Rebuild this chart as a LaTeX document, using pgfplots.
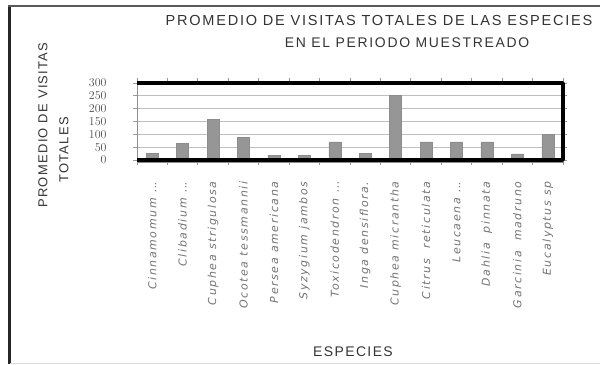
\documentclass[border=0pt]{standalone}
\usepackage{fontspec}
\setmainfont{Liberation Sans}
\newfontfamily\titlefont[LetterSpace=12]{Liberation Sans}
\newfontfamily\labfont[LetterSpace=10]{Liberation Sans}
\newfontfamily\tickfont[LetterSpace=15]{DejaVu Sans}
\newfontfamily\ytickfont[LetterSpace=6]{DejaVu Sans}
\usepackage{pgfplots}
\pgfplotsset{compat=1.18}
\definecolor{barc}{RGB}{150,150,150}
\newcommand{\dd}{.\kern0.5pt.\kern0.5pt.}
\begin{document}
\begin{tikzpicture}[x=1bp,y=1bp]
\useasboundingbox (0,0) rectangle (600,364);
\draw[line width=3bp, black!85] (9,0) -- (9,357.5);
\draw[line width=2bp, black!65] (8,357.5) -- (600,357.5);
\draw[line width=1bp, black!15] (10,0.5) -- (600,0.5);
\node[font=\titlefont\fontsize{14.6}{17}\selectfont, text=black!80] at (379,344) {PROMEDIO DE VISITAS TOTALES DE LAS ESPECIES};
\node[font=\titlefont\fontsize{14}{17}\selectfont, text=black!80] at (407,321) {EN EL PERIODO MUESTREADO};
\node[rotate=90, font=\labfont\fontsize{13}{15}\selectfont, text=black!80] at (43,239) {PROMEDIO DE VISITAS};
\node[rotate=90, font=\labfont\fontsize{13}{15}\selectfont, text=black!80] at (64,214) {TOTALES};
\node[font=\labfont\fontsize{14}{15}\selectfont, text=black!80] at (353,12) {ESPECIES};
\begin{axis}[
  at={(137bp,204bp)}, anchor=south west,
  scale only axis, width=426bp, height=77bp,
  xmin=-0.5, xmax=13.5, ymin=0, ymax=300,
  ytick={0,50,...,300},
  ymajorgrids, grid style={black!25, line width=0.8bp},
  axis line style={draw=none},
  xtick={0,...,13},
  xticklabels={{Cinnamomum \dd}, {Clibadium \dd}, {Cuphea strigulosa}, {Ocotea tessmannii}, {Persea americana}, {Syzygium jambos}, {Toxicodendron \dd}, {Inga densiflora.}, {Cuphea micrantha}, {Citrus\ \ reticulata}, {Leucaena \dd}, {Dahlia\ \ pinnata}, {Garcinia\ \ madruno}, {Eucalyptus sp}},
  major x tick style={draw=none},
  minor xtick={-0.5,0.5,...,13.5},
  minor tick length=5bp,
  major tick length=4bp,
  tick align=outside,
  tick style={black!40, line width=0.8bp},
  xticklabel style={yshift=-14bp, rotate=90, anchor=east, font=\tickfont\itshape\fontsize{11}{12}\selectfont, text=black!55},
  yticklabel style={font=\ytickfont\fontsize{12}{12}\selectfont, text=black!70, xshift=-23bp},
  clip=false,
]
\addplot[ybar, bar width=12bp, fill=barc, draw=black!45] coordinates {
(0,25) (1,64) (2,159) (3,89) (4,18) (5,18) (6,71) (7,25) (8,252) (9,71) (10,71) (11,71) (12,24) (13,99)};
\draw[black!45, line width=1bp] (rel axis cs:0,0) -- (rel axis cs:0,1);
\draw[line width=5bp, black!45] (rel axis cs:0,0) -- (rel axis cs:1,0);
\draw[line width=3.5bp, black, line join=round] (rel axis cs:0,1) -- (rel axis cs:1,1) -- (rel axis cs:1,0) -- (rel axis cs:0,0);
\end{axis}
\end{tikzpicture}
\end{document}
